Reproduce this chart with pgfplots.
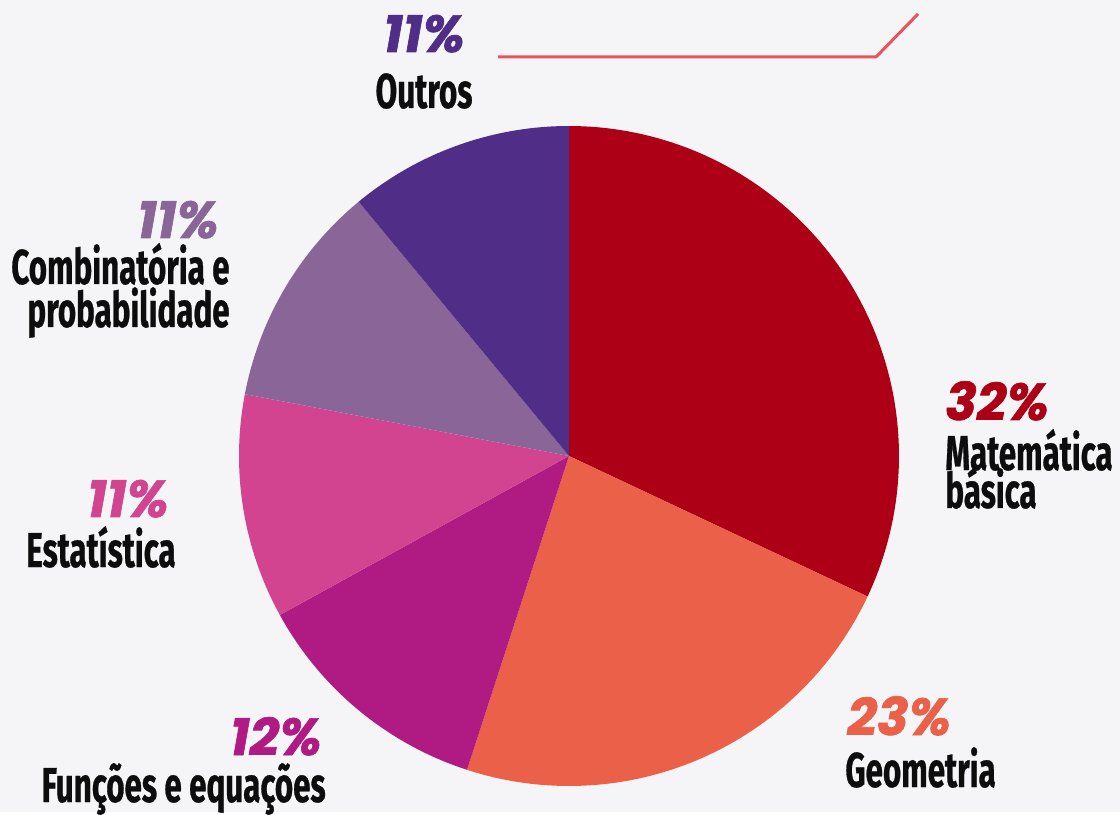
\documentclass[border=0pt]{standalone}
\usepackage{pgfplots}
\pgfplotsset{compat=1.18}
\usepackage{fontspec}
\setmainfont{Fira Sans}
\newfontfamily\labfont{Fira Sans}[FakeStretch=0.64, FakeBold=0.6]
\newfontfamily\pctfont{Poppins}[FakeBold=1.3]
\definecolor{bgc}{HTML}{F5F5F7}
\definecolor{cmat}{HTML}{AD0016}
\definecolor{cgeo}{HTML}{EB6049}
\definecolor{cfun}{HTML}{AF1B82}
\definecolor{cest}{HTML}{D24490}
\definecolor{ccom}{HTML}{8A6698}
\definecolor{cout}{HTML}{502D86}
\definecolor{cline}{HTML}{E8555A}
\newcommand{\pct}[1]{{\pctfont\bfseries\itshape\fontsize{26}{28}\selectfont #1}}
\tikzset{lab/.style={font=\labfont\bfseries\fontsize{24.5}{20.5}\selectfont, text=black!95, inner sep=0pt}}
\begin{document}
\begin{tikzpicture}
\fill[bgc] (0,0) rectangle (560pt,406pt);
\begin{axis}[
  at={(0,0)}, anchor=south west,
  width=560pt, height=406pt, scale only axis,
  xmin=0, xmax=1120, ymin=0, ymax=812,
  hide axis, clip=false,
]
% Slices: percentages 32, 23, 12, 11, 11, 11 clockwise from top
% Matematica basica 32% : 90 -> -25.2
\addplot[draw=none, fill=cmat, domain=-25.2:90, samples=90, variable=\t]
  ({569+330*cos(\t)},{356+330*sin(\t)}) -- (569,356) -- cycle;
% Geometria 23% : -25.2 -> -108
\addplot[draw=none, fill=cgeo, domain=-108:-25.2, samples=70, variable=\t]
  ({569+330*cos(\t)},{356+330*sin(\t)}) -- (569,356) -- cycle;
% Funcoes e equacoes 12% : -108 -> -151.2
\addplot[draw=none, fill=cfun, domain=-151.2:-108, samples=40, variable=\t]
  ({569+330*cos(\t)},{356+330*sin(\t)}) -- (569,356) -- cycle;
% Estatistica 11% : -151.2 -> -190.8
\addplot[draw=none, fill=cest, domain=-190.8:-151.2, samples=40, variable=\t]
  ({569+330*cos(\t)},{356+330*sin(\t)}) -- (569,356) -- cycle;
% Combinatoria e probabilidade 11% : -190.8 -> -230.4
\addplot[draw=none, fill=ccom, domain=-230.4:-190.8, samples=40, variable=\t]
  ({569+330*cos(\t)},{356+330*sin(\t)}) -- (569,356) -- cycle;
% Outros 11% : -230.4 -> -270
\addplot[draw=none, fill=cout, domain=-270:-230.4, samples=40, variable=\t]
  ({569+330*cos(\t)},{356+330*sin(\t)}) -- (569,356) -- cycle;
% decorative line
\addplot[draw=cline, line width=1.5pt, mark=none] coordinates {(498,755) (876,755) (918,798)};
% Labels
\node[anchor=base, text=cout, inner sep=0pt] at (424,760) {\pct{11\%}};
\node[lab, anchor=base] at (424,704) {Outros};
\node[anchor=base east, text=ccom, inner sep=0pt] at (219,574) {\pct{11\%}};
\node[lab, anchor=base east] at (230,528) {Combinatória e};
\node[lab, anchor=base east] at (230,485) {probabilidade};
\node[anchor=base west, text=cmat, inner sep=0pt] at (945,392) {\pct{32\%}};
\node[lab, anchor=base west] at (945,342) {Matemática};
\node[lab, anchor=base west] at (945,304) {básica};
\node[anchor=base east, text=cest, inner sep=0pt] at (169,295) {\pct{11\%}};
\node[lab, anchor=base east] at (176,245) {Estatística};
\node[anchor=base east, text=cfun, inner sep=0pt] at (322,57) {\pct{12\%}};
\node[lab, anchor=base east] at (326,10) {Funções e equações};
\node[anchor=base west, text=cgeo, inner sep=0pt] at (847,77) {\pct{23\%}};
\node[lab, anchor=base west] at (845,25) {Geometria};
\end{axis}
\end{tikzpicture}
\end{document}
